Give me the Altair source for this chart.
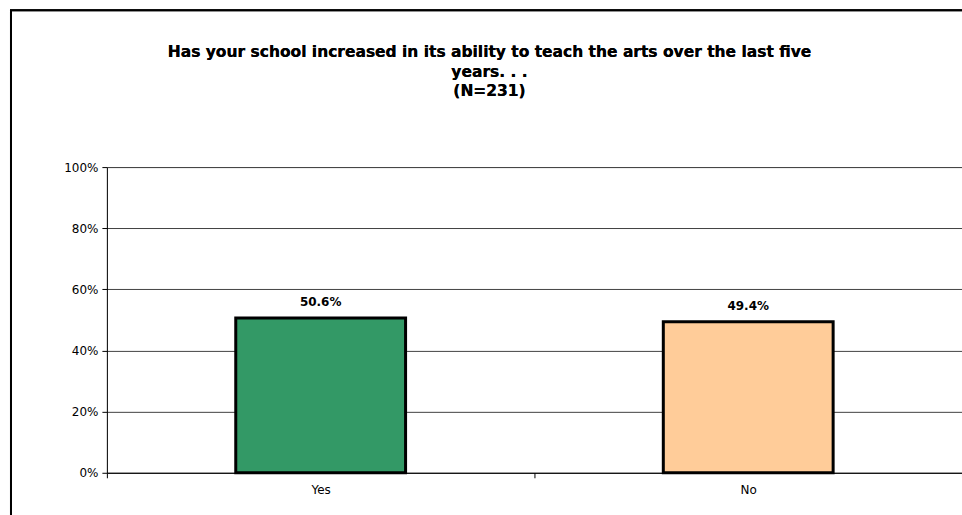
import altair as alt
import pandas as pd

categories = ["Yes", "No"]
values = [0.506, 0.494]
colors = ["#339966", "#FFCC99"]
title_lines = [
    "Has your school increased in its ability to teach the arts over the last five",
    "years. . .",
    "(N=231)",
]

df = pd.DataFrame({"cat": categories, "val": values, "color": colors})
FONT = "DejaVu Sans"

x = alt.X(
    "cat:N",
    sort=categories,
    scale=alt.Scale(paddingInner=0, paddingOuter=0),
    axis=alt.Axis(
        title=None, labelAngle=0, labelFont=FONT, labelFontSize=12, labelColor="#000000",
        labelPadding=7, tickBand="extent", tickSize=5, tickColor="#000000",
        domainColor="#000000", grid=False,
    ),
)
y = alt.Y(
    "val:Q",
    scale=alt.Scale(domain=[0, 1]),
    axis=alt.Axis(
        title=None, format=".0%", values=[0, 0.2, 0.4, 0.6, 0.8, 1.0],
        labelFont=FONT, labelFontSize=12, labelColor="#000000", labelPadding=4,
        tickSize=5, tickColor="#000000", domainColor="#000000",
        grid=True, gridColor="#000000", gridOpacity=0.75,
    ),
)

frame = alt.Chart(df).mark_rect(fill=None, stroke="#000000", strokeWidth=2, clip=False).encode(
    x=alt.value(-96), x2=alt.value(900), y=alt.value(-157), y2=alt.value(400)
)

title = alt.Chart(df).mark_text(
    text=title_lines, font=FONT, fontSize=15.5, fontWeight="bold", color="#000000",
    align="center", baseline="top", lineHeight=19.5,
).encode(x=alt.value(383), y=alt.value(-122))

bars = alt.Chart(df).mark_bar(size=170, stroke="#000000", strokeWidth=3).encode(
    x=x, y=y, fill=alt.Color("color:N", scale=None)
)

labels = alt.Chart(df).mark_text(
    font=FONT, fontSize=12, fontWeight="bold", baseline="bottom", dy=-9, color="#000000"
).encode(x=x, y=y, text=alt.Text("val:Q", format=".1%"))

chart = alt.layer(frame, title, bars, labels).properties(
    width=856,
    height=306,
    padding={"left": 107, "top": 167, "right": 0, "bottom": 42},
    autosize=alt.AutoSizeParams(type="none"),
).configure_view(strokeWidth=0).configure(background="#ffffff")

chart.save("out.html", embed_options={"renderer": "svg", "actions": False})
